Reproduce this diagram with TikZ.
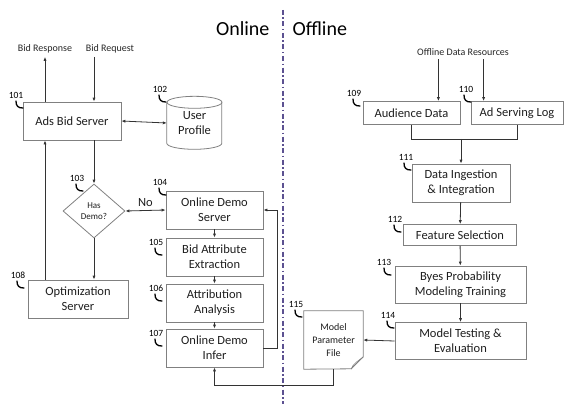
\documentclass[tikz,border=0pt]{standalone}
\usepackage{fontspec}
\setmainfont{Carlito}
\usetikzlibrary{
    arrows.meta,      % For arrow tips
    shapes.geometric, % For the decision diamond
    positioning       % For label positioning
}
\definecolor{boxgray}{HTML}{808080}
\definecolor{inkgray}{HTML}{1E1E1E}
\definecolor{splitcolor}{HTML}{5C5191}

\begin{document}
\begin{tikzpicture}[
    x=1pt, y=-1pt, % pixel-like coordinates, y grows downwards
    >={Latex[length=4pt,width=3.2pt]}, % Default arrow tip
    block/.style={draw=boxgray, line width=0.8pt, text=inkgray, align=center,
        inner sep=1pt, font=\fontsize{12.5}{15}\selectfont}, % Process boxes
    flow/.style={->, line width=0.8pt, draw=black!80}, % Connectors
    refnum/.style={font=\fontsize{9.5}{10}\selectfont, text=black}, % Reference numbers
    inout/.style={font=\fontsize{10}{11}\selectfont, text=black!85}, % Input/output texts
    sidetitle/.style={font=\fontsize{20}{22}\selectfont, text=black}, % Online / Offline
    hookmark/.pic={\draw[line width=1.3pt, line cap=round] (0,0) .. controls (0,5) and (2,7) .. (7,7);}
]

    % Fix the page to the reference size
    \useasboundingbox (0,0) rectangle (564,404);

    % Online / Offline split
    \draw[splitcolor, line width=1.4pt, dash pattern=on 5pt off 2.5pt on 1.5pt off 2.5pt] (283,10) -- (283,404);
    \node[sidetitle, anchor=east] (onl) at (273,29) {Online};
    \node[sidetitle, anchor=west] (offl) at (289,29) {Offline};

    % Online side
    \node[inout] (resp) at (45,49) {Bid Response};
    \node[inout] (req) at (110,49) {Bid Request};
    \node[block, minimum width=98, minimum height=38] (ads) at (72,121) {Ads Bid Server};
    \node[minimum width=55, minimum height=53, align=center, text=inkgray,
        font=\fontsize{12.5}{15}\selectfont] (profile) at (194.5,123) {User\\Profile};
    \node[block, diamond, minimum width=62, minimum height=54, aspect=1.15, inner sep=0pt,
        font=\fontsize{9}{11}\selectfont] (demo) at (94,211) {Has\\Demo?};
    \node[block, minimum width=100, minimum height=38] (opt) at (78,299) {Optimization\\Server};
    \node[block, minimum width=97, minimum height=38] (ods) at (214.5,210) {Online Demo\\Server};
    \node[block, minimum width=97, minimum height=38] (bae) at (214.5,257) {Bid Attribute\\Extraction};
    \node[block, minimum width=97, minimum height=38] (aa) at (214.5,303) {Attribution\\Analysis};
    \node[block, minimum width=97, minimum height=38] (odi) at (214.5,348) {Online Demo\\Infer};

    % User profile drum
    \draw[boxgray, line width=0.8pt] (profile.north) ++(0,6) ellipse [x radius=27.5, y radius=6];
    \draw[boxgray, line width=0.8pt] (profile.north west) ++(0,6) -- ++(0,41)
        arc[start angle=180, end angle=0, x radius=27.5, y radius=6] -- ++(0,-41);

    % Offline side
    \node[inout] (odr) at (463,52) {Offline Data Resources};
    \node[block, minimum width=97, minimum height=23] (aud) at (411.5,113) {Audience Data};
    \node[block, minimum width=92, minimum height=23] (log) at (517,113) {Ad Serving Log};
    \node[block, minimum width=98, minimum height=38] (ingest) at (461,183) {Data Ingestion\\\& Integration};
    \node[block, minimum width=113, minimum height=21] (feat) at (460,235) {Feature Selection};
    \node[block, minimum width=131, minimum height=37] (train) at (460.5,284.5) {Byes Probability\\Modeling Training};
    \node[block, minimum width=131, minimum height=37] (test) at (460.5,341) {Model Testing \&\\Evaluation};
    \node[minimum width=59, minimum height=58, align=center, text=inkgray,
        font=\fontsize{10}{13}\selectfont] (param) at (333.5,340) {Model\\Parameter\\File};

    % Parameter file sheet with folded corner
    \draw[boxgray, line width=0.8pt] (param.north west) -- (param.north east) -- ++(0,46)
        -- ++(-12,12) -- (param.south west) -- cycle;
    \draw[boxgray, line width=0.6pt] (param.south east) ++(-12,0) .. controls ++(1,-5) and ++(-3,2) .. ++(12,-12);

    % Connectors, online
    \draw[flow] (resp.south |- ads.north) -- (resp.south);
    \draw[flow] (req.south -| demo.north) -- (ads.north -| demo.north);
    \draw[flow, <->] (ads.east) -- (profile.west);
    \draw[flow] (ads.south -| demo.north) -- (demo.north);
    \draw[flow, <->] (demo.east) -- node[above, font=\fontsize{12.5}{14}\selectfont, text=inkgray] {No} (ods.west);
    \draw[flow] (demo.south) -- (demo.south |- opt.north);
    \draw[flow] (opt.north -| resp.south) -- (ads.south -| resp.south);
    \draw[flow] (ods) -- (bae);
    \draw[flow] (bae) -- (aa);
    \draw[flow] (aa) -- (odi);
    \draw[flow] (odi.east) -- ++(14,0) |- (ods.east);

    % Connectors, offline
    \draw[flow] (odr.south -| aud.east) ++(-22,0) coordinate (audin) -- (audin |- aud.north);
    \draw[flow] (odr.south -| log.west) ++(13,0) coordinate (login) -- (login |- log.north);
    \draw[line width=0.8pt, draw=black!80] (aud.south) -- ++(0,14) coordinate (merge) -| (log.south);
    \draw[flow] (merge -| ingest.north) -- (ingest.north);
    \draw[flow] (ingest) -- (feat);
    \draw[flow] (feat) -- (train);
    \draw[flow] (train) -- (test);
    \draw[flow] (test.west) -- (param.east);
    \draw[flow] (param.south) -- ++(0,16) -| (odi.south);

    % Reference numbers with hooks
    \node[refnum] (n101) at (16,95) {101};  \pic at (16,101) {hookmark};
    \node[refnum] (n102) at (160,89) {102}; \pic at (159,95) {hookmark};
    \node[refnum] (n103) at (77,178) {103}; \pic at (76,184) {hookmark};
    \node[refnum] (n104) at (160,182) {104}; \pic at (159,188) {hookmark};
    \node[refnum] (n105) at (156,242) {105}; \pic at (155,248) {hookmark};
    \node[refnum] (n106) at (156,288) {106}; \pic at (155,294) {hookmark};
    \node[refnum] (n107) at (156,333) {107}; \pic at (155,339) {hookmark};
    \node[refnum] (n108) at (18,275) {108}; \pic at (17,281) {hookmark};
    \node[refnum] (n109) at (354,93) {109}; \pic at (353,99) {hookmark};
    \node[refnum] (n110) at (466,89) {110}; \pic at (464,95) {hookmark};
    \node[refnum] (n111) at (406,157) {111}; \pic at (404,163) {hookmark};
    \node[refnum] (n112) at (395,219) {112}; \pic at (394,225) {hookmark};
    \node[refnum] (n113) at (384,262) {113}; \pic at (384,268) {hookmark};
    \node[refnum] (n114) at (388,315) {114}; \pic at (387,321) {hookmark};
    \node[refnum] (n115) at (296,304) {115}; \pic at (295,310) {hookmark};

\end{tikzpicture}
\end{document}
